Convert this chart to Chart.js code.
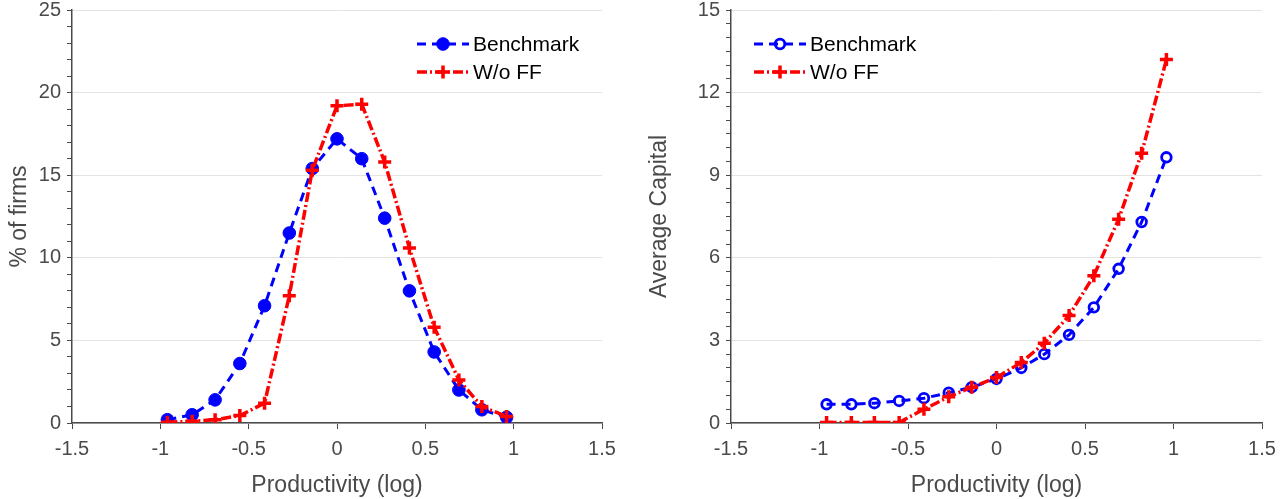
<!DOCTYPE html>
<html>
<head>
<meta charset="utf-8">
<script src="https://cdn.jsdelivr.net/npm/chart.js@4.4.0/dist/chart.umd.min.js"></script>
<style>
  body { margin: 0; background: #fff; }
  #wrap { position: relative; width: 1286px; height: 499px; }
  .box { position: absolute; top: 0; height: 499px; }
</style>
</head>
<body>
<div id="wrap">
  <div class="box" style="left:0;width:640px"><canvas id="distChart"></canvas></div>
  <div class="box" style="left:640px;width:646px"><canvas id="capChart"></canvas></div>
</div>
<script>
// productivity grid (log)
var Productivity = [-0.96, -0.82, -0.69, -0.55, -0.41, -0.27, -0.14, 0, 0.14, 0.27, 0.41, 0.55, 0.69, 0.82, 0.96];

// % of firms
var ShareBench = [0.2, 0.5, 1.4, 3.6, 7.1, 11.5, 15.4, 17.2, 16.0, 12.4, 8.0, 4.3, 2.0, 0.8, 0.35];
var ShareNoFF  = [0.05, 0.1, 0.2, 0.45, 1.2, 7.7, 15.3, 19.2, 19.3, 15.8, 10.6, 5.8, 2.6, 1.0, 0.4];

// average capital
var CapBench = [0.68, 0.68, 0.72, 0.8, 0.9, 1.1, 1.3, 1.6, 2.0, 2.5, 3.2, 4.2, 5.6, 7.3, 9.65];
var CapNoFF  = [0.02, 0.02, 0.02, 0.02, 0.5, 0.95, 1.3, 1.65, 2.2, 2.9, 3.9, 5.35, 7.4, 9.8, 13.2];

var SeriesNames = ["Benchmark", "W/o FF"];

var FONT = "'Liberation Sans', Arial, sans-serif";
var AXIS = '#4a4a4a';

function toPoints(ys) {
    return Productivity.map(function (x, i) { return { x: x, y: ys[i] }; });
}

function drawMarker(ctx, style, x, y, r, color, fill, lw) {
    ctx.save();
    ctx.strokeStyle = color;
    ctx.lineWidth = lw;
    ctx.setLineDash([]);
    if (style === 'circle') {
        ctx.beginPath();
        ctx.arc(x, y, r, 0, Math.PI * 2);
        if (fill) { ctx.fillStyle = fill; ctx.fill(); }
        ctx.stroke();
    } else {
        ctx.beginPath();
        ctx.moveTo(x - r, y); ctx.lineTo(x + r, y);
        ctx.moveTo(x, y - r); ctx.lineTo(x, y + r);
        ctx.stroke();
    }
    ctx.restore();
}

// legend drawn inside the plot, like the original figure
const insetLegend = {
    id: 'insetLegend',
    afterDraw(chart, args, opts) {
        const ctx = chart.ctx;
        chart.data.datasets.forEach(function (ds, i) {
            var y = opts.y + i * 28;
            ctx.save();
            ctx.strokeStyle = ds.borderColor;
            ctx.lineWidth = ds.borderWidth;
            ctx.setLineDash(ds.borderDash || []);
            ctx.beginPath();
            ctx.moveTo(opts.x, y);
            ctx.lineTo(opts.x + 52, y);
            ctx.stroke();
            ctx.restore();
            drawMarker(ctx, ds.pointStyle === 'circle' ? 'circle' : 'cross', opts.x + 26, y,
                ds.pointRadius, ds.pointBorderColor, ds.pointBackgroundColor === 'rgba(0,0,0,0)' ? null : ds.pointBackgroundColor, ds.pointBorderWidth);
            ctx.save();
            ctx.fillStyle = '#000';
            ctx.font = '21px ' + FONT;
            ctx.textBaseline = 'middle';
            ctx.fillText(ds.label, opts.x + 56, y + 1);
            ctx.restore();
        });
    }
};

function makeChart(id, bench, noff, yMax, yStep, yMajor, yTitle, yWidth, padRight, legendX, openCircle) {
    return new Chart(document.getElementById(id), {
        type: 'line',
        data: {
            datasets: [{
                label: SeriesNames[0],
                data: toPoints(bench),
                borderColor: '#0000ff',
                borderWidth: 3,
                borderDash: [9, 6],
                pointStyle: 'circle',
                pointRadius: openCircle ? 4.8 : 6.3,
                pointBorderWidth: openCircle ? 2.8 : 1,
                pointBorderColor: '#0000ff',
                pointBackgroundColor: openCircle ? 'rgba(0,0,0,0)' : '#0000ff',
                order: 2
            }, {
                label: SeriesNames[1],
                data: toPoints(noff),
                borderColor: '#ff0000',
                borderWidth: 3.5,
                borderDash: [10, 3, 2, 3],
                pointStyle: 'cross',
                pointRadius: 6.5,
                pointBorderWidth: 3.5,
                pointBorderColor: '#ff0000',
                pointBackgroundColor: '#ff0000',
                order: 1
            }]
        },
        options: {
            responsive: true,
            maintainAspectRatio: false,
            animation: false,
            layout: { padding: { top: 9, right: padRight, left: 0, bottom: 0 } },
            plugins: {
                legend: { display: false },
                tooltip: { enabled: false },
                insetLegend: { x: legendX, y: 44 }
            },
            scales: {
                x: {
                    type: 'linear',
                    min: -1.5,
                    max: 1.5,
                    afterFit: function (s) { s.height = 76; s.paddingLeft = 0; s.paddingRight = 0; },
                    ticks: {
                        stepSize: 0.5,
                        color: AXIS,
                        font: { family: FONT, size: 20 },
                        padding: 8,
                        callback: function (v) { return String(Number(v.toFixed(2))); }
                    },
                    grid: { drawOnChartArea: false, tickLength: 6, color: AXIS },
                    border: { color: AXIS, width: 1.5 },
                    title: {
                        display: true,
                        text: 'Productivity (log)',
                        color: AXIS,
                        font: { family: FONT, size: 23 },
                        padding: { top: 2, bottom: 0 }
                    }
                },
                y: {
                    min: 0,
                    max: yMax,
                    afterFit: function (s) { s.width = yWidth; s.paddingTop = 0; s.paddingBottom = 0; },
                    ticks: {
                        stepSize: yStep,
                        autoSkip: false,
                        maxTicksLimit: 100,
                        color: AXIS,
                        font: { family: FONT, size: 20 },
                        padding: 6,
                        callback: function (v) { return (Math.abs(v % yMajor) < 1e-9) ? String(v) : ''; }
                    },
                    grid: {
                        tickLength: 5,
                        color: function (c) {
                            var v = c.tick ? c.tick.value : 0;
                            return (Math.abs(v % yMajor) < 1e-9) ? '#e3e3e3' : 'rgba(0,0,0,0)';
                        },
                        tickColor: AXIS
                    },
                    border: { color: AXIS, width: 1.5 },
                    title: {
                        display: true,
                        text: yTitle,
                        color: AXIS,
                        font: { family: FONT, size: 23 },
                        padding: { top: 6, bottom: 4 }
                    }
                }
            }
        },
        plugins: [insetLegend]
    });
}

makeChart('distChart', ShareBench, ShareNoFF, 25, 1, 5, '% of firms', 72, 38, 417, false);
makeChart('capChart', CapBench, CapNoFF, 15, 0.5, 3, 'Average Capital', 91, 24, 114, true);
</script>
</body>
</html>
